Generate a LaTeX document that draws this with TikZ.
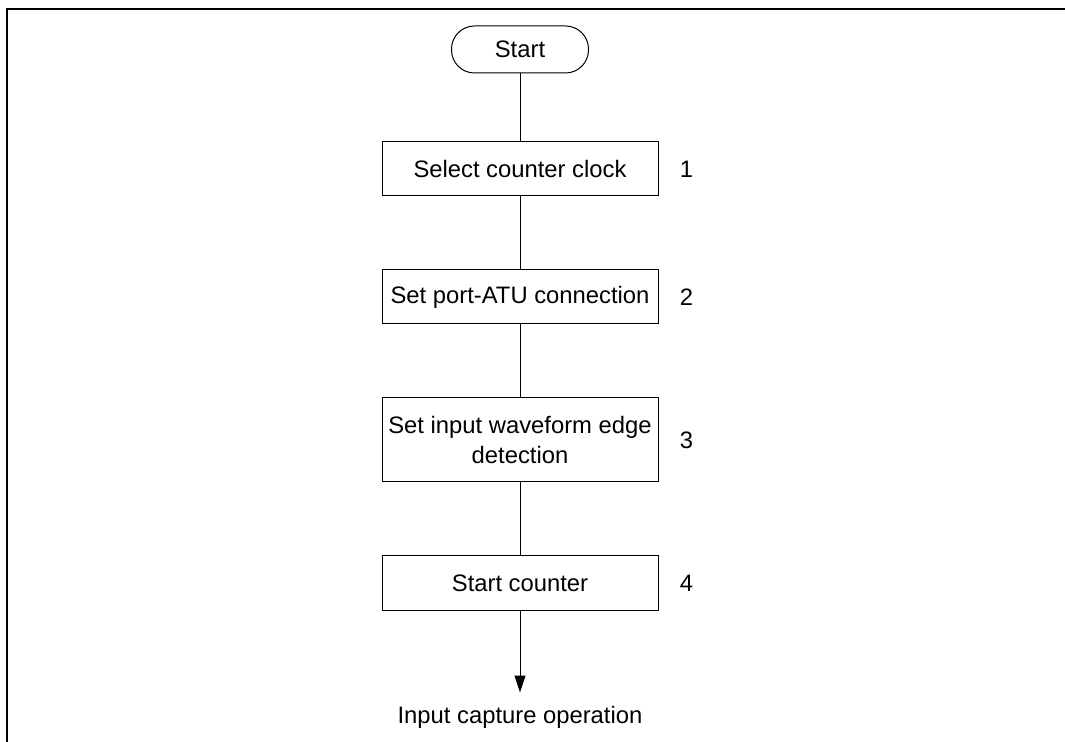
\documentclass[tikz,border=0pt]{standalone}
\usepackage{fontspec}
\setmainfont{Liberation Sans}
\usetikzlibrary{positioning,arrows.meta}

\begin{document}
\begin{tikzpicture}[x=0.5pt, y=-0.5pt, node distance=36.5pt,
    every node/.style={font=\fontsize{11.9}{15}\selectfont},
    stepbox/.style={rectangle, draw, line width=0.5pt, align=center,
        inner sep=3pt, minimum width=138pt, minimum height=27pt},
    terminal/.style={rectangle, rounded corners=11.5pt, draw, line width=0.5pt,
        minimum width=68.5pt, minimum height=23.5pt},
    stepnum/.style={inner sep=0pt},
    flow/.style={line width=0.5pt}]
    \useasboundingbox (0,0) rectangle (1065,742);
    % frame
    \draw[line width=1pt] (7,742) -- (7,9) -- (1065,9);
    % steps
    \node[terminal] (start) at (520,49.5) {Start};
    \node[stepbox, below=34pt of start] (s1) {Select counter clock};
    \node[stepbox, below=of s1] (s2) {Set port-ATU connection};
    \node[stepbox, below=of s2, minimum height=42pt] (s3) {Set input waveform edge\\detection};
    \node[stepbox, below=of s3] (s4) {Start counter};
    \foreach \i in {1,...,4}
        \node[stepnum, right=10.5pt of s\i] (n\i) {\i};
    % connectors
    \draw[flow] (start) -- (s1);
    \foreach \a/\b in {s1/s2, s2/s3, s3/s4}
        \draw[flow] (\a) -- (\b);
    \coordinate[below=41pt of s4] (end);
    \draw[flow, -{Triangle[width=5.5pt,length=8.5pt]}] (s4) -- (end);
    \node (out) at ([yshift=-12.5pt]end) {Input capture operation};
\end{tikzpicture}
\end{document}
